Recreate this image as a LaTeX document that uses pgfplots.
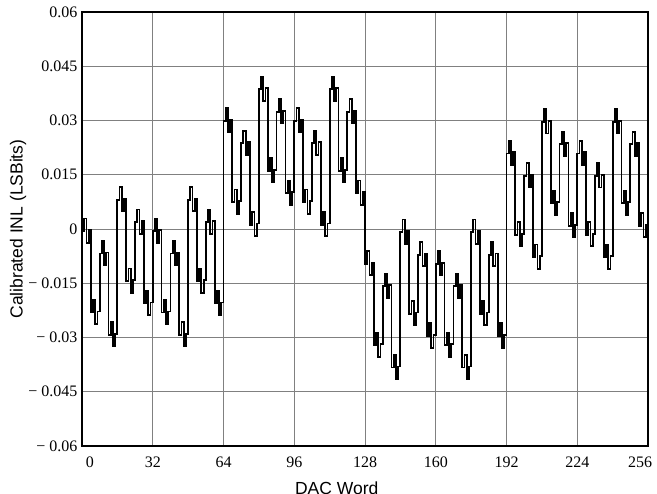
\documentclass[border=0pt]{standalone}
\usepackage{pgfplots}
\usepackage{pgfplotstable}
\pgfplotsset{compat=1.18}
\usepackage{fontspec}
\setmainfont{Liberation Serif}
\newfontfamily\arial{Liberation Sans}

\pgfplotstableread[row sep=\\]{
x y\\
0 -0.0006\\ 1 0.0029\\ 2 -0.0038\\ 3 -0.0003\\ 4 -0.0231\\ 5 -0.0196\\ 6 -0.0263\\ 7 -0.0228\\
8 -0.0068\\ 9 -0.0033\\ 10 -0.0100\\ 11 -0.0065\\ 12 -0.0293\\ 13 -0.0258\\ 14 -0.0325\\ 15 -0.0290\\
16 0.0081\\ 17 0.0116\\ 18 0.0049\\ 19 0.0084\\ 20 -0.0144\\ 21 -0.0109\\ 22 -0.0176\\ 23 -0.0141\\
24 0.0019\\ 25 0.0054\\ 26 -0.0013\\ 27 0.0022\\ 28 -0.0206\\ 29 -0.0171\\ 30 -0.0238\\ 31 -0.0203\\
32 -0.0006\\ 33 0.0029\\ 34 -0.0038\\ 35 -0.0003\\ 36 -0.0231\\ 37 -0.0196\\ 38 -0.0263\\ 39 -0.0228\\
40 -0.0068\\ 41 -0.0033\\ 42 -0.0100\\ 43 -0.0065\\ 44 -0.0293\\ 45 -0.0258\\ 46 -0.0325\\ 47 -0.0290\\
48 0.0081\\ 49 0.0116\\ 50 0.0049\\ 51 0.0084\\ 52 -0.0144\\ 53 -0.0109\\ 54 -0.0176\\ 55 -0.0141\\
56 0.0019\\ 57 0.0054\\ 58 -0.0013\\ 59 0.0022\\ 60 -0.0206\\ 61 -0.0171\\ 62 -0.0238\\ 63 -0.0203\\
64 0.0299\\ 65 0.0334\\ 66 0.0267\\ 67 0.0302\\ 68 0.0074\\ 69 0.0109\\ 70 0.0042\\ 71 0.0077\\
72 0.0237\\ 73 0.0272\\ 74 0.0205\\ 75 0.0240\\ 76 0.0012\\ 77 0.0047\\ 78 -0.0020\\ 79 0.0015\\
80 0.0386\\ 81 0.0421\\ 82 0.0354\\ 83 0.0389\\ 84 0.0161\\ 85 0.0196\\ 86 0.0129\\ 87 0.0164\\
88 0.0324\\ 89 0.0359\\ 90 0.0292\\ 91 0.0327\\ 92 0.0099\\ 93 0.0134\\ 94 0.0067\\ 95 0.0102\\
96 0.0299\\ 97 0.0334\\ 98 0.0267\\ 99 0.0302\\ 100 0.0074\\ 101 0.0109\\ 102 0.0042\\ 103 0.0077\\
104 0.0237\\ 105 0.0272\\ 106 0.0205\\ 107 0.0240\\ 108 0.0012\\ 109 0.0047\\ 110 -0.0020\\ 111 0.0015\\
112 0.0386\\ 113 0.0421\\ 114 0.0354\\ 115 0.0389\\ 116 0.0161\\ 117 0.0196\\ 118 0.0129\\ 119 0.0164\\
120 0.0324\\ 121 0.0359\\ 122 0.0292\\ 123 0.0327\\ 124 0.0099\\ 125 0.0134\\ 126 0.0067\\ 127 0.0102\\
128 -0.0096\\ 129 -0.0061\\ 130 -0.0128\\ 131 -0.0093\\ 132 -0.0321\\ 133 -0.0286\\ 134 -0.0353\\ 135 -0.0318\\
136 -0.0158\\ 137 -0.0123\\ 138 -0.0190\\ 139 -0.0155\\ 140 -0.0383\\ 141 -0.0348\\ 142 -0.0415\\ 143 -0.0380\\
144 -0.0009\\ 145 0.0026\\ 146 -0.0041\\ 147 -0.0006\\ 148 -0.0234\\ 149 -0.0199\\ 150 -0.0266\\ 151 -0.0231\\
152 -0.0071\\ 153 -0.0036\\ 154 -0.0103\\ 155 -0.0068\\ 156 -0.0296\\ 157 -0.0261\\ 158 -0.0328\\ 159 -0.0293\\
160 -0.0096\\ 161 -0.0061\\ 162 -0.0128\\ 163 -0.0093\\ 164 -0.0321\\ 165 -0.0286\\ 166 -0.0353\\ 167 -0.0318\\
168 -0.0158\\ 169 -0.0123\\ 170 -0.0190\\ 171 -0.0155\\ 172 -0.0383\\ 173 -0.0348\\ 174 -0.0415\\ 175 -0.0380\\
176 -0.0009\\ 177 0.0026\\ 178 -0.0041\\ 179 -0.0006\\ 180 -0.0234\\ 181 -0.0199\\ 182 -0.0266\\ 183 -0.0231\\
184 -0.0071\\ 185 -0.0036\\ 186 -0.0103\\ 187 -0.0068\\ 188 -0.0296\\ 189 -0.0261\\ 190 -0.0328\\ 191 -0.0293\\
192 0.0209\\ 193 0.0244\\ 194 0.0177\\ 195 0.0212\\ 196 -0.0016\\ 197 0.0019\\ 198 -0.0048\\ 199 -0.0013\\
200 0.0147\\ 201 0.0182\\ 202 0.0115\\ 203 0.0150\\ 204 -0.0078\\ 205 -0.0043\\ 206 -0.0110\\ 207 -0.0075\\
208 0.0296\\ 209 0.0331\\ 210 0.0264\\ 211 0.0299\\ 212 0.0071\\ 213 0.0106\\ 214 0.0039\\ 215 0.0074\\
216 0.0234\\ 217 0.0269\\ 218 0.0202\\ 219 0.0237\\ 220 0.0009\\ 221 0.0044\\ 222 -0.0023\\ 223 0.0012\\
224 0.0209\\ 225 0.0244\\ 226 0.0177\\ 227 0.0212\\ 228 -0.0016\\ 229 0.0019\\ 230 -0.0048\\ 231 -0.0013\\
232 0.0147\\ 233 0.0182\\ 234 0.0115\\ 235 0.0150\\ 236 -0.0078\\ 237 -0.0043\\ 238 -0.0110\\ 239 -0.0075\\
240 0.0296\\ 241 0.0331\\ 242 0.0264\\ 243 0.0299\\ 244 0.0071\\ 245 0.0106\\ 246 0.0039\\ 247 0.0074\\
248 0.0234\\ 249 0.0269\\ 250 0.0202\\ 251 0.0237\\ 252 0.0009\\ 253 0.0044\\ 254 -0.0023\\ 255 0.0012\\
256 0.0012\\
}\inldata

\begin{document}
\begin{tikzpicture}
\begin{axis}[
  name=ax,
  scale only axis,
  width=566bp, height=434bp,
  xmin=0, xmax=256, ymin=-0.06, ymax=0.06,
  xtick={0,32,64,96,128,160,192,224,256},
  xticklabels={\hspace*{16bp}0,32,64,96,128,160,192,224,256\hspace*{16bp}},
  ytick={-0.06,-0.045,-0.03,-0.015,0,0.015,0.03,0.045,0.06},
  yticklabels={− 0.06,− 0.045,− 0.03,− 0.015,0,0.015,0.03,0.045,\raisebox{-2bp}{0.06}},
  major tick length=0pt,
  grid=major,
  major grid style={draw=black!50, line width=0.9bp},
  axis line style={black, line width=1.3bp},
  tick label style={font=\fontsize{16bp}{18bp}\selectfont, black},
  label style={font=\arial\fontsize{17.5bp}{20bp}\selectfont, black},
  xlabel={DAC Word},
  ylabel={Calibrated INL (LSBits)},
  xlabel style={at={(axis description cs:0.45,-0.097)}, anchor=center},
  ylabel style={at={(axis description cs:-0.113,0.5)}, anchor=center},
  yticklabel style={anchor=east, xshift=-1bp},
  xticklabel style={yshift=-7bp},
  clip=false,
]
\addplot[const plot mark left, black, line width=1.8bp, line join=miter] table[x=x, y=y] {\inldata};
\end{axis}
\pgfresetboundingbox
\path ([shift={(-82bp,-48bp)}]ax.south west) rectangle ([shift={(9bp,12bp)}]ax.north east);
\end{tikzpicture}
\end{document}
